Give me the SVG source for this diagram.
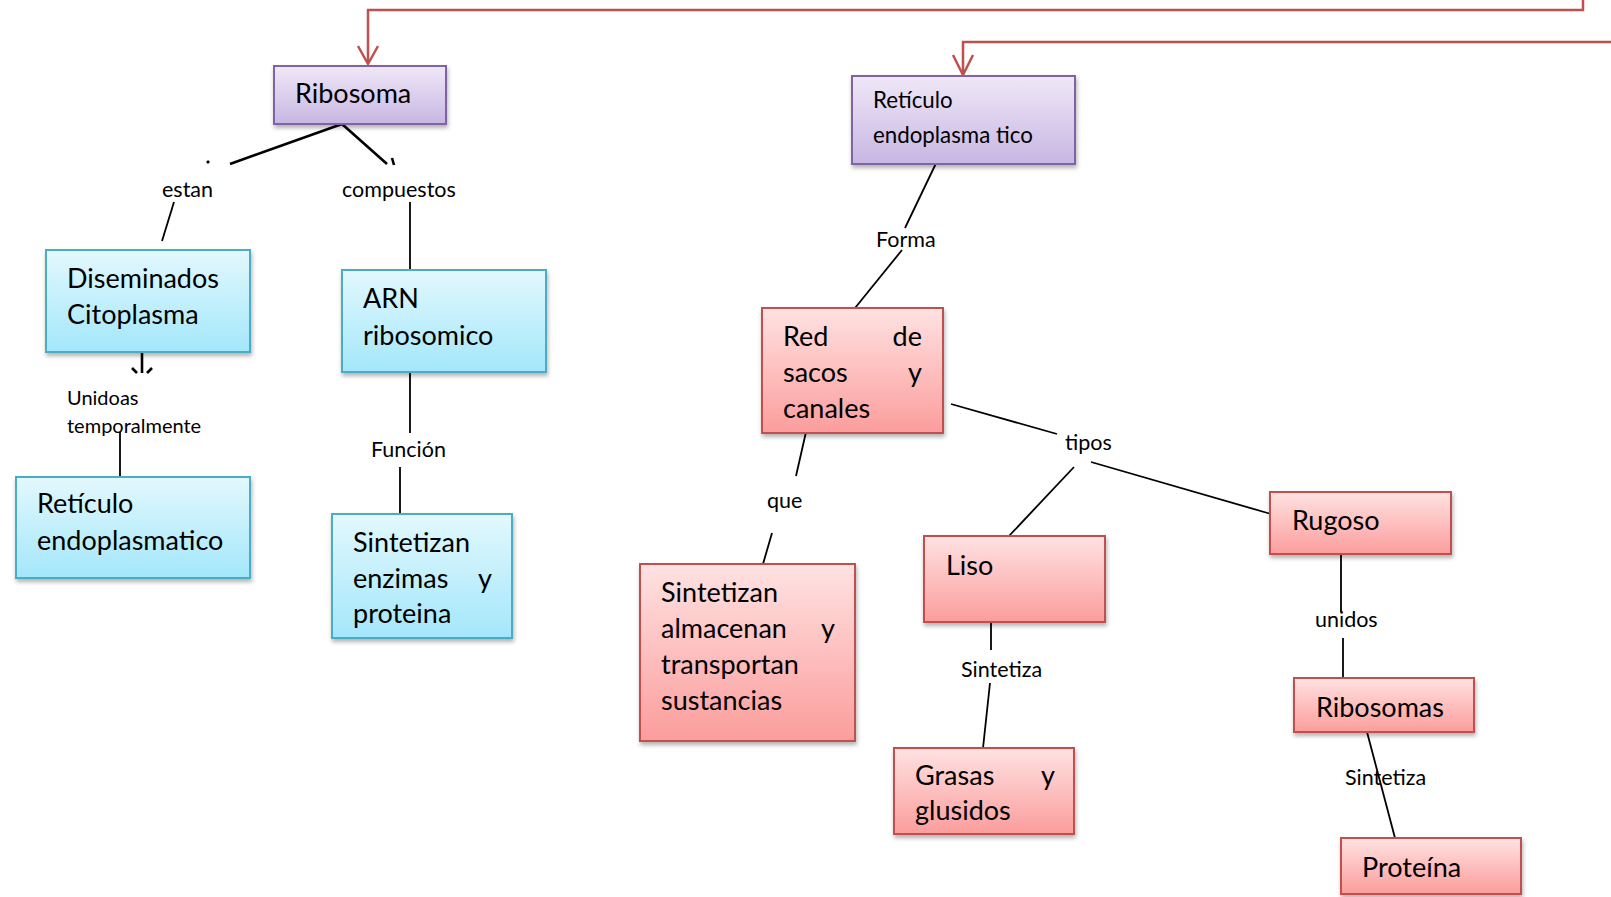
<svg xmlns="http://www.w3.org/2000/svg" width="1611" height="897" viewBox="0 0 1611 897">
<defs>
<linearGradient id="gBlue" x1="0" y1="0" x2="0" y2="1"><stop offset="0" stop-color="#e3f8fd"/><stop offset="1" stop-color="#a3e7fb"/></linearGradient>
<linearGradient id="gPurple" x1="0" y1="0" x2="0" y2="1"><stop offset="0" stop-color="#efe8f7"/><stop offset="1" stop-color="#c8b6e3"/></linearGradient>
<linearGradient id="gRed" x1="0" y1="0" x2="0" y2="1"><stop offset="0" stop-color="#ffe2e2"/><stop offset="1" stop-color="#fb9d9c"/></linearGradient>
<filter id="sh" x="-10%" y="-10%" width="120%" height="130%"><feDropShadow dx="1" dy="3" stdDeviation="2" flood-color="#000" flood-opacity="0.3"/></filter>
</defs>
<style>
.blue{fill:url(#gBlue);stroke:#4bacc6;stroke-width:2;filter:url(#sh)}
.purple{fill:url(#gPurple);stroke:#8064a2;stroke-width:2;filter:url(#sh)}
.red{fill:url(#gRed);stroke:#c0504d;stroke-width:2;filter:url(#sh)}
.t{font-family:Lato,"Open Sans",sans-serif;font-size:27px;fill:#000}
.ts{font-family:Lato,"Open Sans",sans-serif;font-size:22.3px;fill:#000}
.lb{font-family:Lato,"Open Sans",sans-serif;font-size:21.5px;fill:#000}
.c{stroke:#000;stroke-width:1.8;fill:none}
.ck{stroke:#000;stroke-width:2.6;fill:none}
.rc{stroke:#c0504d;stroke-width:2.5;fill:none}
</style>
<rect width="1611" height="897" fill="#fff"/>
<g id="connectors">
<polyline class="rc" points="1583,0 1583,10 368,10 368,63"/>
<polyline class="rc" points="358,46 368,64 378,46"/>
<polyline class="rc" points="1611,42 963,42 963,74"/>
<polyline class="rc" points="953,55 963,75 973,55"/>
<line class="ck" x1="342" y1="124" x2="230" y2="164"/>
<line class="ck" x1="342" y1="124" x2="387" y2="164"/>
<line class="ck" x1="207" y1="163" x2="209" y2="161"/>
<line class="ck" x1="392" y1="158" x2="394" y2="165"/>
<line class="c" x1="174" y1="202" x2="162" y2="241"/>
<line class="c" x1="410" y1="202" x2="410" y2="270"/>
<line class="ck" x1="142" y1="352" x2="142" y2="373"/>
<line class="ck" x1="132" y1="368" x2="137" y2="373"/>
<line class="ck" x1="152" y1="368" x2="147" y2="373"/>
<line class="c" x1="120" y1="432" x2="120" y2="477"/>
<line class="c" x1="410" y1="373" x2="410" y2="433"/>
<line class="c" x1="400" y1="467" x2="400" y2="514"/>
<line class="c" x1="940" y1="155" x2="905" y2="228"/>
<line class="c" x1="902" y1="250" x2="855" y2="308"/>
<line class="c" x1="806" y1="432" x2="796" y2="476"/>
<line class="c" x1="772" y1="533" x2="763" y2="564"/>
<line class="c" x1="951" y1="404" x2="1057" y2="434"/>
<line class="c" x1="1074" y1="467" x2="1009" y2="536"/>
<line class="c" x1="1091" y1="462" x2="1271" y2="514"/>
<line class="c" x1="991" y1="623" x2="991" y2="650"/>
<line class="c" x1="990" y1="683" x2="983" y2="748"/>
<line class="c" x1="1341" y1="554" x2="1341" y2="612"/>
<line class="c" x1="1343" y1="638" x2="1343" y2="682"/>
<line class="c" x1="1367" y1="732" x2="1395" y2="838"/>
</g>
<g id="labels">
<text class="lb" x="162" y="197">estan</text>
<text class="lb" x="342" y="197">compuestos</text>
<text class="lb" x="67" y="405" style="font-size:20px">Unidoas</text>
<text class="lb" x="67" y="433" style="font-size:20px">temporalmente</text>
<text class="lb" x="371" y="457">Función</text>
<text class="lb" x="876" y="247">Forma</text>
<text class="lb" x="767" y="508">que</text>
<text class="lb" x="1065" y="450">tipos</text>
<text class="lb" x="961" y="677">Sintetiza</text>
<text class="lb" x="1315" y="627">unidos</text>
<text class="lb" x="1345" y="785">Sintetiza</text>
</g>
<g id="n-ribosoma"><rect class="purple" x="274" y="66" width="172" height="58"/><text class="t" x="295" y="103">Ribosoma</text></g>
<g id="n-diseminados"><rect class="blue" x="46" y="250" width="204" height="102"/><text class="t" x="67" y="288">Diseminados</text><text class="t" x="67" y="324">Citoplasma</text></g>
<g id="n-arn"><rect class="blue" x="342" y="270" width="204" height="102"/><text class="t" x="363" y="308">ARN</text><text class="t" x="363" y="345">ribosomico</text></g>
<g id="n-reticulo"><rect class="blue" x="16" y="477" width="234" height="101"/><text class="t" x="37" y="513">Retículo</text><text class="t" x="37" y="550">endoplasmatico</text></g>
<g id="n-sintetizan-enzimas"><rect class="blue" x="332" y="514" width="180" height="124"/><text class="t" x="353" y="552">Sintetizan</text><text class="t" x="353" y="588">enzimas</text><text class="t" x="492" y="588" text-anchor="end">y</text><text class="t" x="353" y="623">proteina</text></g>
<g id="n-re"><rect class="purple" x="852" y="76" width="223" height="88"/><text class="ts" x="873" y="108">Retículo</text><text class="ts" x="873" y="143">endoplasma tico</text></g>
<g id="n-red"><rect class="red" x="762" y="308" width="181" height="125"/><text class="t" x="783" y="346">Red</text><text class="t" x="922" y="346" text-anchor="end">de</text><text class="t" x="783" y="382">sacos</text><text class="t" x="922" y="382" text-anchor="end">y</text><text class="t" x="783" y="418">canales</text></g>
<g id="n-sintetizan-almacenan"><rect class="red" x="640" y="564" width="215" height="177"/><text class="t" x="661" y="602">Sintetizan</text><text class="t" x="661" y="638">almacenan</text><text class="t" x="835" y="638" text-anchor="end">y</text><text class="t" x="661" y="674">transportan</text><text class="t" x="661" y="710">sustancias</text></g>
<g id="n-liso"><rect class="red" x="924" y="536" width="181" height="86"/><text class="t" x="946" y="575">Liso</text></g>
<g id="n-rugoso"><rect class="red" x="1270" y="492" width="181" height="62"/><text class="t" x="1292" y="530">Rugoso</text></g>
<g id="n-grasas"><rect class="red" x="894" y="748" width="180" height="86"/><text class="t" x="915" y="785">Grasas</text><text class="t" x="1055" y="785" text-anchor="end">y</text><text class="t" x="915" y="820">glusidos</text></g>
<g id="n-ribosomas"><rect class="red" x="1294" y="678" width="180" height="54"/><text class="t" x="1316" y="717">Ribosomas</text></g>
<g id="n-proteina"><rect class="red" x="1341" y="838" width="180" height="56"/><text class="t" x="1362" y="877">Proteína</text></g>
</svg>
